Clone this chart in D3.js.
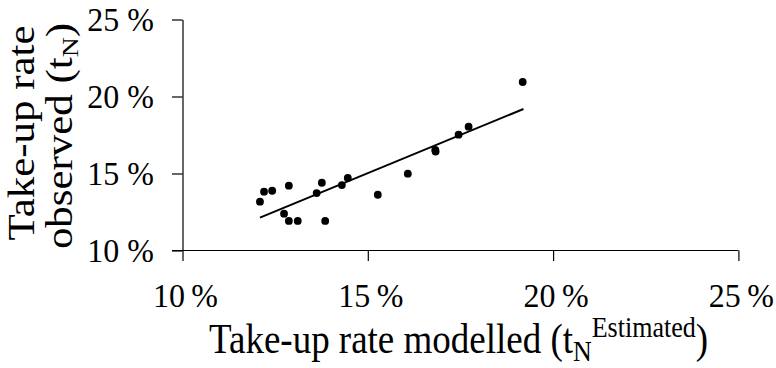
<!DOCTYPE html>
<html>
<head>
<meta charset="utf-8">
<script src="https://cdn.jsdelivr.net/npm/d3@7"></script>
<style>
  body { margin: 0; background: #fff; }
  text { font-family: "Liberation Serif", "Times New Roman", serif; fill: #000; }
</style>
</head>
<body>
<div id="chart"></div>
<script>
/* DATA */
// take-up rate modelled (x) vs observed (y), in %
const modelled = [12.09, 12.20, 12.42, 12.87, 12.74, 12.87, 13.11, 13.62, 13.76, 13.85,
  14.30, 14.46, 15.27, 16.08, 16.82, 16.83, 17.45, 17.72, 19.18];
const observed = [13.17, 13.82, 13.88, 14.21, 12.39, 11.92, 11.92, 13.73, 14.40, 11.92,
  14.25, 14.71, 13.62, 14.99, 16.53, 16.43, 17.52, 18.04, 20.94];
// fitted line end points
const trendX = [12.09, 19.20];
const trendY = [12.13, 19.19];
const xTicks = [10, 15, 20, 25];
const yTicks = [10, 15, 20, 25];

/* CONSTANTS */
const width = 776,
  height = 368,
  margin = { top: 19.5, bottom: 117.5, left: 182.5, right: 37.6 },
  radius = 3.9,
  stretch = 1.16, // titles in the picture are a bit taller than wide
  tickStretch = 1.06;

const svg = d3.select("#chart")
  .append("svg")
  .attr("width", width)
  .attr("height", height);

const xScale = d3.scaleLinear()
  .domain([10, 25])
  .range([margin.left, width - margin.right]);

const yScale = d3.scaleLinear()
  .domain([10, 25])
  .range([height - margin.bottom, margin.top]);

// axes: lines and ticks only, labels drawn below
const xAxis = d3.axisBottom(xScale).tickValues(xTicks).tickSize(10.5).tickSizeOuter(0).tickFormat("");
const yAxis = d3.axisLeft(yScale).tickValues(yTicks).tickSize(10.5).tickSizeOuter(0).tickFormat("");

svg.append("g")
  .attr("class", "axis x-axis")
  .attr("transform", `translate(0,${yScale(10)})`)
  .call(xAxis)
  .call(g => g.select(".domain").attr("d", `M${xScale(10) - 10.5},0H${xScale(25)}`));

svg.append("g")
  .attr("class", "axis y-axis")
  .attr("transform", `translate(${xScale(10)},0)`)
  .call(yAxis);

svg.selectAll(".axis path, .axis line")
  .attr("stroke", "#000")
  .attr("stroke-width", 1.2);

// tick labels
svg.selectAll("text.ylab")
  .data(yTicks)
  .join("text")
  .attr("class", "ylab")
  .attr("text-anchor", "end")
  .attr("font-size", 32)
  .attr("transform", d => `translate(154,${yScale(d) + 11.5}) scale(1,${tickStretch})`)
  .text(d => d + " %");

svg.selectAll("text.xlab")
  .data(xTicks)
  .join("text")
  .attr("class", "xlab")
  .attr("text-anchor", "middle")
  .attr("font-size", 32)
  .attr("transform", d => `translate(${xScale(d) + 3},${yScale(10) + 56}) scale(1,${tickStretch})`)
  .text(d => d + "\u2009%");

// trend line
svg.append("path")
  .datum(d3.zip(trendX, trendY))
  .attr("fill", "none")
  .attr("stroke", "#000")
  .attr("stroke-width", 2)
  .attr("d", d3.line().x(d => xScale(d[0])).y(d => yScale(d[1])));

// points
svg.selectAll("circle.dot")
  .data(d3.zip(modelled, observed))
  .join("circle")
  .attr("class", "dot")
  .attr("cx", d => xScale(d[0]))
  .attr("cy", d => yScale(d[1]))
  .attr("r", radius)
  .attr("fill", "#000");

// x axis title
const xt = svg.append("text")
  .attr("text-anchor", "middle")
  .attr("font-size", 37)
  .attr("transform", `translate(458.5,353) scale(1,${stretch})`);
xt.append("tspan").text("Take-up rate modelled (t");
xt.append("tspan").attr("font-size", 26).attr("dy", 7).text("N");
xt.append("tspan").attr("font-size", 26).attr("dy", -21).text("Estimated");
xt.append("tspan").attr("dy", 14).text(")");

// y axis title, two lines
svg.append("text")
  .attr("text-anchor", "middle")
  .attr("font-size", 37)
  .attr("transform", `translate(33.5,133) scale(1,${stretch}) rotate(-90)`)
  .text("Take-up rate");

const yt = svg.append("text")
  .attr("text-anchor", "middle")
  .attr("font-size", 37)
  .attr("transform", `translate(72,136) scale(1,${stretch}) rotate(-90)`);
yt.append("tspan").text("observed (t");
yt.append("tspan").attr("font-size", 24).attr("dy", 6).text("N");
yt.append("tspan").attr("dy", -6).text(")");
</script>
</body>
</html>
